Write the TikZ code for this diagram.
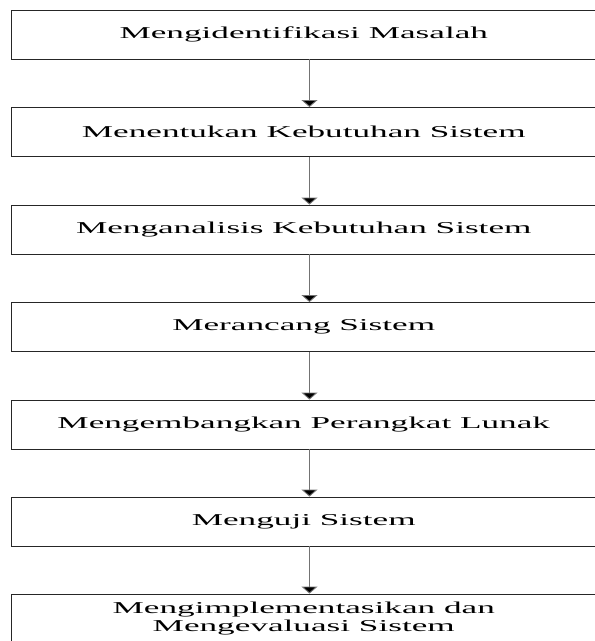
\documentclass[tikz,border=0pt]{standalone}
\usepackage{fontspec}
\setmainfont{Liberation Serif}[FakeStretch=2.12]
\usetikzlibrary{arrows.meta}
\begin{document}
\begin{tikzpicture}[x=1pt,y=-1pt,
  stepbox/.style={draw=black!85,line width=0.9pt,rectangle,minimum width=584.5pt,minimum height=49pt,
     inner sep=0pt,align=center,font=\fontsize{16.6}{18.5}\selectfont},
  flow/.style={draw=black!55,line width=0.9pt,-{Triangle[width=16pt,length=7pt,fill=black]}}]
\useasboundingbox (0,0) rectangle (595,641);
\fill[white] (0,0) rectangle (595,641);
\node[stepbox] (b1) at (303.75,34.5) {Mengidentifikasi Masalah};
\node[stepbox] (b2) at (303.75,132) {Menentukan Kebutuhan Sistem};
\node[stepbox] (b3) at (303.75,229.5) {Menganalisis Kebutuhan Sistem};
\node[stepbox] (b4) at (303.75,327) {Merancang Sistem};
\node[stepbox] (b5) at (303.75,424.5) {Mengembangkan Perangkat Lunak};
\node[stepbox] (b6) at (303.75,521.5) {Menguji Sistem};
\node[stepbox] (b7) at (303.75,618.5) {Mengimplementasikan dan\\Mengevaluasi Sistem};
\foreach \a/\b in {b1/b2,b2/b3,b3/b4,b4/b5,b5/b6,b6/b7}
  \draw[flow] ([xshift=5.75pt]\a.south) -- ([xshift=5.75pt]\b.north);
\end{tikzpicture}
\end{document}
